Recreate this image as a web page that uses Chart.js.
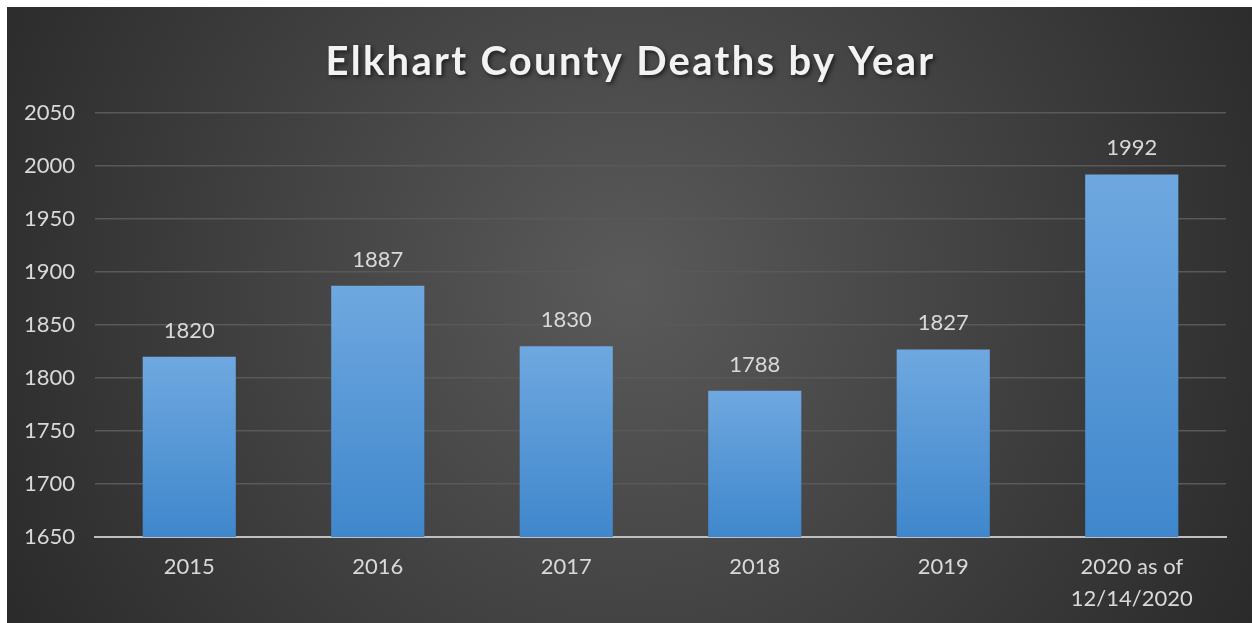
<!DOCTYPE html>
<html>
<head>
<meta charset="utf-8">
<script src="https://cdn.jsdelivr.net/npm/chart.js@4.4.1/dist/chart.umd.min.js"></script>
<style>
  html, body { margin: 0; padding: 0; background: #ffffff; }
  #wrap { position: absolute; left: 7px; top: 7px; width: 1245px; height: 616px; }
</style>
</head>
<body>
<div id="wrap"><canvas id="c" width="1245" height="616"></canvas></div>
<script>
const categories = ['2015', '2016', '2017', '2018', '2019', ['2020 as of', '12/14/2020']];
const deaths = [1820, 1887, 1830, 1788, 1827, 1992];
const yMin = 1650;
const yMax = 2050;
const yStep = 50;
const chartTitle = 'Elkhart County Deaths by Year';

const bgPlugin = {
  id: 'bg',
  beforeDraw(chart) {
    const ctx = chart.ctx;
    const w = chart.width, h = chart.height;
    const g = ctx.createRadialGradient(w * 0.5, h * 0.45, 0, w * 0.5, h * 0.45, w * 0.62);
    g.addColorStop(0, '#5a5a5a');
    g.addColorStop(1, '#262626');
    ctx.save();
    ctx.fillStyle = g;
    ctx.fillRect(0, 0, w, h);
    ctx.restore();
  }
};

const titlePlugin = {
  id: 'customTitle',
  afterDraw(chart) {
    const ctx = chart.ctx;
    ctx.save();
    ctx.font = 'bold 40px Lato';
    if ('letterSpacing' in ctx) ctx.letterSpacing = '2.3px';
    ctx.fillStyle = '#f2f2f2';
    ctx.textAlign = 'center';
    ctx.textBaseline = 'alphabetic';
    ctx.shadowColor = 'rgba(0,0,0,0.6)';
    ctx.shadowBlur = 4;
    ctx.shadowOffsetX = 2;
    ctx.shadowOffsetY = 2;
    ctx.fillText(chartTitle, chart.width / 2 + 1, 68);
    ctx.restore();
  }
};

const valueLabels = {
  id: 'valueLabels',
  afterDatasetsDraw(chart) {
    const ctx = chart.ctx;
    const meta = chart.getDatasetMeta(0);
    ctx.save();
    ctx.font = '22px Lato';
    ctx.fillStyle = '#d9d9d9';
    ctx.textAlign = 'center';
    ctx.textBaseline = 'alphabetic';
    meta.data.forEach((bar, i) => {
      ctx.fillText(String(deaths[i]), bar.x, bar.y - 19);
    });
    ctx.restore();
  }
};

function barFill(context) {
  const chart = context.chart;
  const area = chart.chartArea;
  if (!area) return '#5b9bd5';
  const y = chart.scales.y;
  const v = context.raw;
  const top = y.getPixelForValue(v);
  const bottom = y.getPixelForValue(yMin);
  const g = chart.ctx.createLinearGradient(0, top, 0, bottom);
  g.addColorStop(0, '#6fa8e0');
  g.addColorStop(1, '#3f87cc');
  return g;
}

new Chart(document.getElementById('c'), {
  type: 'bar',
  data: {
    labels: categories,
    datasets: [{
      data: deaths,
      backgroundColor: barFill,
      borderWidth: 0,
      categoryPercentage: 1.0,
      barPercentage: 0.494
    }]
  },
  options: {
    responsive: false,
    animation: false,
    layout: { padding: { top: 106, right: 26, bottom: 0, left: 0 } },
    plugins: {
      legend: { display: false },
      tooltip: { enabled: false },
      title: { display: false }
    },
    scales: {
      x: {
        grid: { display: false, drawTicks: false },
        border: { display: true, color: '#bfbfbf', width: 2 },
        ticks: {
          color: '#d9d9d9',
          font: { family: 'Lato', size: 22, lineHeight: 1.45 },
          padding: 14,
          maxRotation: 0,
          autoSkip: false
        },
        afterFit(scale) { scale.height = 86; }
      },
      y: {
        min: yMin,
        max: yMax,
        grid: { color: '#595959', lineWidth: 1.5, drawTicks: false },
        border: { display: false },
        ticks: {
          stepSize: yStep,
          color: '#d9d9d9',
          font: { family: 'Lato', size: 22 },
          padding: 20,
          callback: (v) => String(v)
        },
        afterFit(scale) { scale.width = 88; }
      }
    }
  },
  plugins: [bgPlugin, valueLabels, titlePlugin]
});
</script>
</body>
</html>
